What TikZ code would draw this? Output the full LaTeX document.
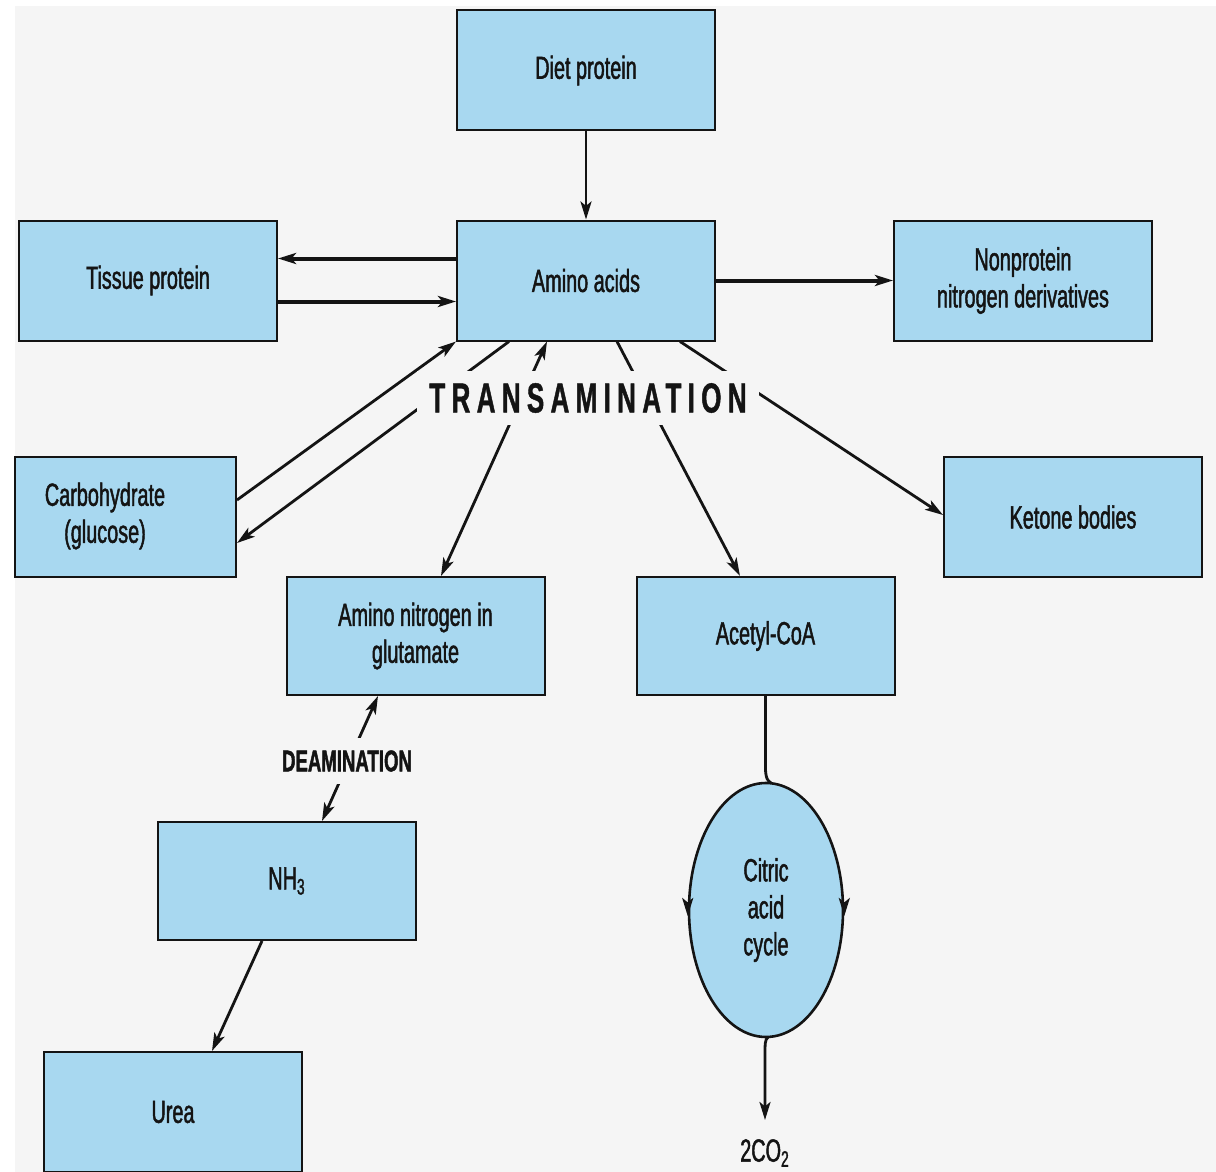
\documentclass[tikz,border=0pt]{standalone}
\usepackage{fontspec}
\setmainfont{Liberation Sans}[FakeStretch=0.62,FakeBold=1.4]
\newfontfamily\spacedfont{Liberation Sans}[FakeStretch=0.62,LetterSpace=15,FakeBold=1]
\usetikzlibrary{shapes.geometric,arrows.meta,calc}
\definecolor{bg}{RGB}{245,245,245}
\definecolor{boxblue}{RGB}{168,216,240}
\definecolor{ink}{RGB}{20,20,20}
\begin{document}
\begin{tikzpicture}[x=0.5pt,y=-0.5pt,
  box/.style={draw=ink,line width=1pt,fill=boxblue,minimum width=129pt,minimum height=60pt,
    inner sep=0pt,align=center,text=ink,font=\fontsize{16}{18.5}\selectfont},
  lbl/.style={text=ink,align=center,font=\fontsize{16}{18.5}\selectfont},
  tip/.style={-{Stealth[length=9pt,width=5.5pt,inset=2.2pt]}},
  bitip/.style={{Stealth[length=9pt,width=5.5pt,inset=2.2pt]}-{Stealth[length=9pt,width=5.5pt,inset=2.2pt]}},
  conn/.style={draw=ink,line width=1.4pt},
  thick conn/.style={draw=ink,line width=2pt}]
\useasboundingbox (0,0) rectangle (1216,1172);
\fill[white] (0,0) rectangle (1216,1172);
\fill[bg] (15,6) rectangle (1216,1172);

\node[box] (diet) at (586,70.5) {Diet protein};
\node[box] (amino) at (586,280.5) {Amino acids};
\node[box] (tissue) at (148,280.5) {Tissue protein};
\node[box] (nonprot) at (1023,280.5) {Nonprotein\\nitrogen derivatives};
\node[box,minimum width=110.5pt] (carb) at (125.5,517) {};
\node[lbl] (carbtext) at (105,516) {Carbohydrate\\(glucose)};
\node[box] (ketone) at (1073,517) {Ketone bodies};
\node[box,minimum height=59pt] (glut) at (415.5,636) {Amino nitrogen in\\glutamate};
\node[box,minimum height=59pt] (acetyl) at (765.5,636) {Acetyl-CoA};
\node[box,minimum height=59pt] (nh3) at (287,881) {NH\textsubscript{3}};
\node[box] (urea) at (173,1112) {Urea};
\node[draw=ink,line width=1.3pt,fill=boxblue,ellipse,minimum width=77pt,minimum height=127pt,
  inner sep=0pt,lbl] (cac) at (766,910) {Citric\\acid\\cycle};
\node[lbl] (co2) at (765,1153) {2CO\textsubscript{2}};
\coordinate (co2end) at (765,1120);

% connectors
\draw[conn,tip] (diet.south) -- (amino.north);
\draw[thick conn,tip] ($(amino.west)+(0,-22)$) -- ($(tissue.east)+(0,-22)$);
\draw[thick conn,tip] ($(tissue.east)+(0,21)$) -- ($(amino.west)+(0,21)$);
\draw[thick conn,tip] (amino.east) -- (nonprot.west);
\draw[conn,tip] ($(carb.east)+(0,-17)$) -- (amino.south west);
\draw[conn,tip] ($(amino.south west)+(53,0)$) -- ($(carb.east)+(0,26)$);
\draw[conn,bitip] ($(amino.south)+(-39,0)$) -- ($(glut.north)+(25.5,0)$);
\draw[conn,tip] ($(amino.south)+(31,0)$) -- ($(acetyl.north)+(-25.5,0)$);
\draw[conn,tip] ($(amino.south)+(94,0)$) -- ($(ketone.west)+(0,-2)$);
\draw[conn,bitip] ($(glut.south)+(-37.5,0)$) -- ($(nh3.north)+(35,0)$);
\draw[conn,tip] ($(nh3.south)+(-25,0)$) -- ($(urea.north)+(39,0)$);
\draw[conn] (acetyl.south) -- ++(0,72) .. controls ++(0,10) and ++(-3,-1) .. ($(cac.north)+(5,1)$);
\draw[conn,tip] ($(cac.south)+(2,-1)$) .. controls ++(-3,2) and ++(0,-10) .. ($(cac.south)+(-1,16)$) -- (co2end);
\draw[conn,tip] ($(cac.west)+(0,-7)$) -- ($(cac.west)+(0,6)$);
\draw[conn,tip] ($(cac.east)+(0,-7)$) -- ($(cac.east)+(0,6)$);

% labels over lines
\node[fill=bg,inner xsep=6pt,inner ysep=6pt,text=ink,font=\spacedfont\bfseries\fontsize{21}{24}\selectfont]
  (trans) at (588,398) {TRANSAMINATION};
\node[fill=bg,inner xsep=3pt,inner ysep=6pt,text=ink,font=\bfseries\fontsize{15}{18}\selectfont]
  (deam) at (347,761) {DEAMINATION};
\end{tikzpicture}
\end{document}
